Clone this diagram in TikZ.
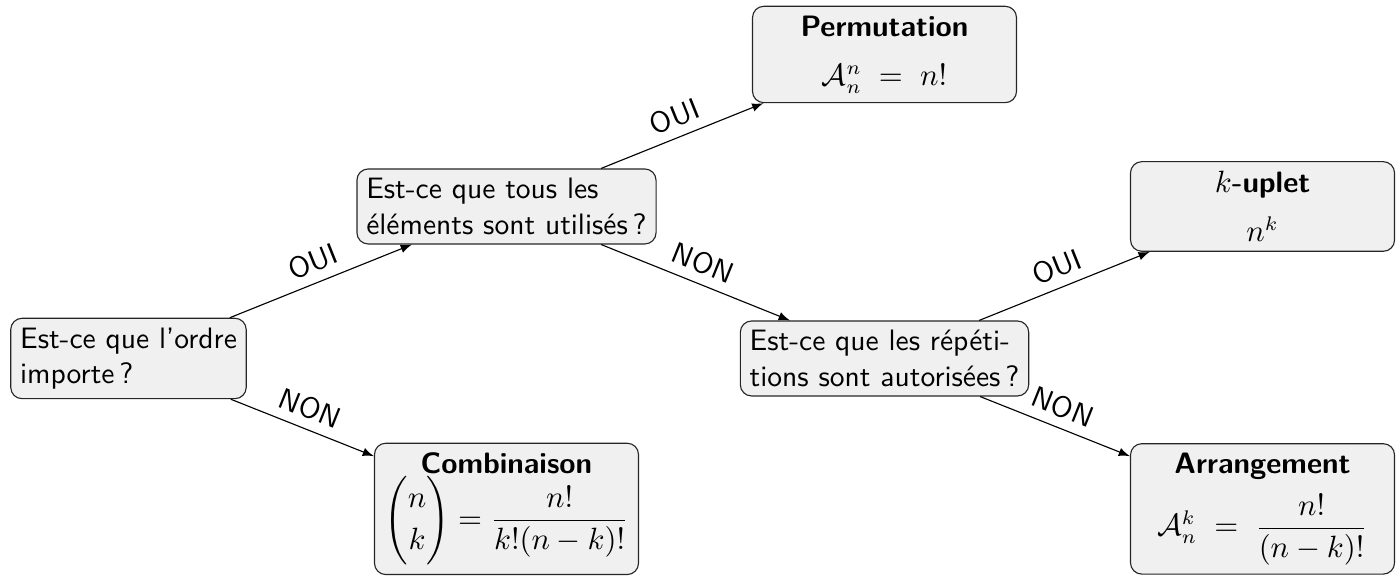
\documentclass[tikz,border=0pt]{standalone}
\usepackage{amsmath, amssymb}

\begin{document}
\begin{tikzpicture}[node distance=4.725cm, >=latex, font=\sffamily\fontsize{10.5}{12.6}\selectfont,
    question/.style={draw=black!85, rectangle, rounded corners, fill=black!6, align=left},
    result/.style={draw=black!85, rectangle, rounded corners, fill=black!6, align=center, minimum width=3.3cm},
    reponse/.style={midway, above, sloped}]
    \useasboundingbox (-1.606,-2.719) rectangle (15.881,4.481);

    \node (Ordre) [question] {Est-ce que l'ordre\\importe\,?};
    \node (Utilises) [question, right of=Ordre, yshift=1.9cm] {Est-ce que tous les\\éléments sont utilisés\,?};
    \node (Combinaison) [result, right of=Ordre, yshift=-1.88cm] {\textbf{Combinaison}\\[0pt] $\dbinom{n}{k} = \dfrac{n!}{k!(n-k)!}$};
    \node (Permutation) [result, right of=Utilises, yshift=1.9cm] {\textbf{Permutation}\\[5pt] $\mathcal{A}_n^n \;=\; n!$};
    \node (Repetitions) [question, right of=Utilises, yshift=-1.9cm] {Est-ce que les répéti-\\tions sont autorisées\,?};
    \node (Uplet) [result, right of=Repetitions, yshift=1.9cm] {$k$\textbf{-uplet}\\[5pt] $n^k$};
    \node (Arrangement) [result, right of=Repetitions, yshift=-1.88cm] {\textbf{Arrangement}\\[4pt] $\mathcal{A}_n^k \;=\; \dfrac{n!}{(n-k)!}$};

    \draw[->] (Ordre) -- (Utilises) node[reponse] {OUI};
    \draw[->] (Ordre) -- (Combinaison) node[reponse] {NON};
    \draw[->] (Utilises) -- (Permutation) node[reponse] {OUI};
    \draw[->] (Utilises) -- (Repetitions) node[reponse] {NON};
    \draw[->] (Repetitions) -- (Uplet) node[reponse] {OUI};
    \draw[->] (Repetitions) -- (Arrangement) node[reponse] {NON};
\end{tikzpicture}
\end{document}
